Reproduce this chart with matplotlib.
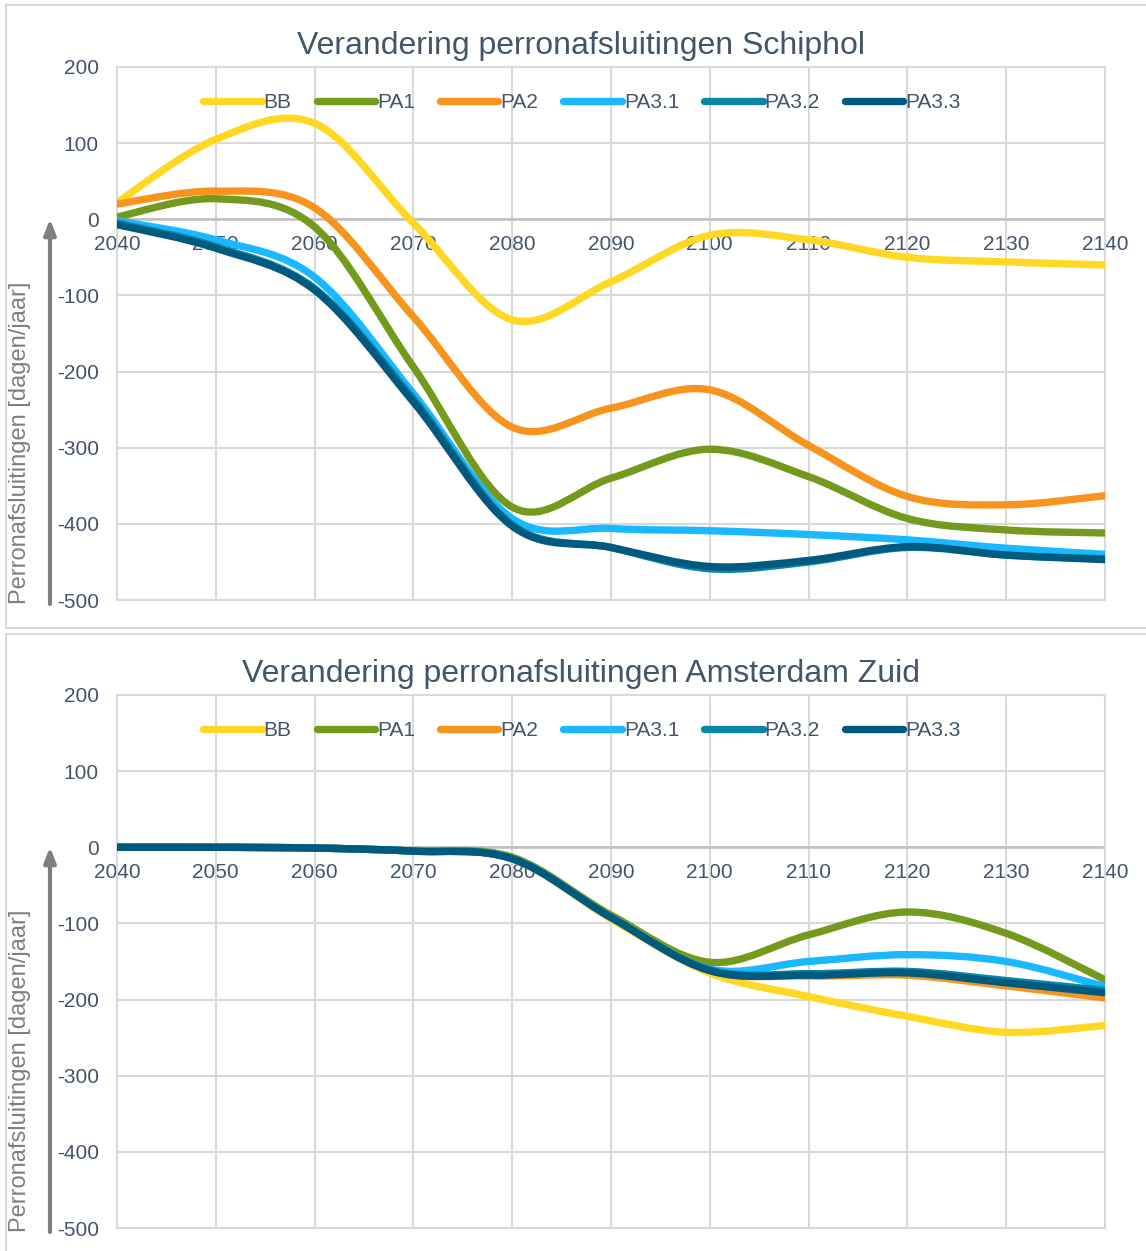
import matplotlib
matplotlib.use("Agg")
from matplotlib import pyplot as plt
from matplotlib.path import Path
from matplotlib.patches import PathPatch, Rectangle
from matplotlib.lines import Line2D
import matplotlib.transforms as mtransforms
import numpy as np

plt.rcParams['font.family'] = ['Liberation Sans', 'DejaVu Sans']
plt.rcParams['axes.unicode_minus'] = False

years = [2040, 2050, 2060, 2070, 2080, 2090, 2100, 2110, 2120, 2130, 2140]
series = ["BB", "PA1", "PA2", "PA3.1", "PA3.2", "PA3.3"]
colors = ["#FFD823", "#739A1C", "#F7941E", "#1AB8FF", "#0A86A8", "#005A80"]

# Schiphol
schiphol = {
    "BB":    [22, 105, 126, -5, -132, -82, -21, -27, -50, -56, -60],
    "PA1":   [3, 27, -10, -194, -378, -340, -302, -338, -393, -408, -412],
    "PA2":   [20, 37, 15, -128, -273, -248, -224, -297, -364, -375, -363],
    "PA3.1": [-2, -27, -76, -229, -393, -406, -409, -414, -421, -432, -440],
    "PA3.2": [-5, -36, -91, -236, -401, -431, -459, -450, -431, -441, -446],
    "PA3.3": [-7, -38, -93, -240, -403, -431, -456, -448, -430, -441, -447],
}

# Amsterdam Zuid
zuid = {
    "BB":    [0, 0, -1, -5, -15, -94, -165, -196, -222, -243, -234],
    "PA1":   [0, 0, -1, -5, -13, -89, -151, -115, -85, -113, -174],
    "PA2":   [0, 0, -1, -5, -15, -92, -162, -169, -168, -182, -198],
    "PA3.1": [0, 0, -1, -5, -15, -92, -160, -150, -141, -150, -183],
    "PA3.2": [0, 0, -1, -5, -15, -92, -161, -166, -163, -175, -188],
    "PA3.3": [0, 0, -1, -5, -15, -92, -162, -168, -165, -178, -191],
}

titles = ["Verandering perronafsluitingen Schiphol",
          "Verandering perronafsluitingen Amsterdam Zuid"]
ylabel = "Perronafsluitingen [dagen/jaar]"

text_col = "#44546A"
grid_col = "#D9D9D9"

W, H = 1146, 1251
fig = plt.figure(figsize=(W / 100, H / 100), dpi=100)


def smooth_path(x, y):
    # bezier path like the excel "smoothed line"
    p = np.column_stack([x, y]).astype(float)
    n = len(p)
    verts = [p[0]]
    codes = [Path.MOVETO]
    for i in range(n - 1):
        p0 = p[i - 1] if i > 0 else p[i]
        p3 = p[i + 2] if i + 2 < n else p[i + 1]
        c1 = p[i] + (p[i + 1] - p0) / 6
        c2 = p[i + 1] - (p3 - p[i]) / 6
        verts += [c1, c2, p[i + 1]]
        codes += [Path.CURVE4] * 3
    return Path(verts, codes)


def panel(top_px, data, title):
    left = 117 / W
    width = (1105 - 117) / W
    height = (600 - 67) / H
    ax = fig.add_axes([left, 1 - (top_px + 533) / H, width, height])
    ax.set_xlim(2040, 2140)
    ax.set_ylim(-500, 200)
    ax.set_xticks(range(2040, 2141, 10))
    ax.set_yticks(range(-500, 201, 100))
    ax.grid(True, color=grid_col, lw=1.5)
    ax.set_axisbelow(True)
    for s in ax.spines.values():
        s.set_color(grid_col)
        s.set_linewidth(1.5)
    ax.tick_params(length=0, labelsize=15, labelcolor=text_col, pad=13)
    ax.set_xticklabels([])
    ax.axhline(0, color="#BFBFBF", lw=1.8, zorder=1)

    off = mtransforms.offset_copy(ax.transData, fig=fig, x=0, y=-16, units='dots')
    for yr in years:
        ax.text(yr, 0, str(yr), transform=off, ha='center', va='top',
                fontsize=15, color=text_col, zorder=0)

    for name, c in zip(series, colors):
        patch = PathPatch(smooth_path(years, data[name]), fill=False,
                          edgecolor=c, lw=5.3, capstyle='round',
                          joinstyle='round', zorder=3)
        ax.add_patch(patch)

    handles = [Line2D([], [], color=c, lw=5.3, solid_capstyle='round') for c in colors]
    fig.legend(handles, series, loc='center', ncol=6, frameon=False,
               bbox_to_anchor=(582 / W, 1 - (top_px + 36) / H),
               fontsize=15, handlelength=2.8, handletextpad=0.1,
               columnspacing=1.2, labelcolor=text_col)

    fig.text(581 / W, 1 - (top_px - 21) / H, title, ha='center', va='center',
             fontsize=23, color=text_col)
    return ax


tops = [67, 695]
datasets = [schiphol, zuid]
for t, d, ttl in zip(tops, datasets, titles):
    panel(t, d, ttl)

# y labels with arrows
for zero_px, bottom_px in [(219, 604), (847, 1232)]:
    fig.text(20 / W, 1 - bottom_px / H, ylabel, rotation=90, ha='center',
             va='bottom', fontsize=17, color="#7F7F7F")
    plt.annotate('', xy=(50, H - zero_px), xytext=(50, H - bottom_px),
                 xycoords='figure pixels', textcoords='figure pixels',
                 arrowprops=dict(arrowstyle='-|>,head_width=0.35,head_length=0.9',
                                 color="#7F7F7F", lw=3, shrinkA=0, shrinkB=0))

# panel borders
fig.patches.append(Rectangle((6 / W, 1 - 628 / H), 1.2, 623 / H, transform=fig.transFigure,
                             fill=False, edgecolor=grid_col, lw=1.5))
fig.patches.append(Rectangle((6 / W, -0.1), 1.2, 0.1 + 1 - 634 / H, transform=fig.transFigure,
                             fill=False, edgecolor=grid_col, lw=1.5))

plt.savefig("out.png", dpi=100)
